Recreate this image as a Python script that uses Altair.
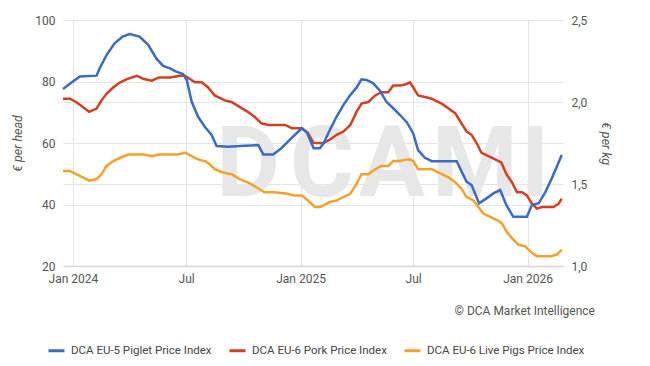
import altair as alt
import pandas as pd

FONT = "Roboto, sans-serif"

S_BLUE = "DCA EU-5 Piglet Price Index"
S_RED = "DCA EU-6 Pork Price Index"
S_ORANGE = "DCA EU-6 Live Pigs Price Index"

# Piglet price index, EUR per head (left axis)
blue_dates = ["2023-12-16", "2024-01-01", "2024-01-12", "2024-02-08", "2024-02-13", "2024-02-24",
              "2024-03-08", "2024-03-21", "2024-04-01", "2024-04-17", "2024-05-01", "2024-05-14",
              "2024-05-25", "2024-06-05", "2024-06-15", "2024-06-26", "2024-07-02", "2024-07-10",
              "2024-07-20", "2024-07-31", "2024-08-11", "2024-08-19", "2024-09-06", "2024-10-03",
              "2024-10-25", "2024-11-02", "2024-11-18", "2024-12-01", "2024-12-17", "2025-01-03",
              "2025-01-11", "2025-01-22", "2025-02-01", "2025-02-07", "2025-02-17", "2025-02-28",
              "2025-03-11", "2025-03-22", "2025-04-01", "2025-04-09", "2025-04-17", "2025-04-28",
              "2025-05-09", "2025-05-19", "2025-05-30", "2025-06-10", "2025-06-21", "2025-07-01",
              "2025-07-09", "2025-07-20", "2025-07-31", "2025-09-09", "2025-09-17", "2025-09-25",
              "2025-10-03", "2025-10-15", "2025-10-27", "2025-11-07", "2025-11-18", "2025-11-28",
              "2025-12-09", "2025-12-31", "2026-01-08", "2026-01-19", "2026-01-30", "2026-02-09",
              "2026-02-17", "2026-02-25"]
blue_vals = [77.6, 80.0, 81.6, 81.9, 84.3, 88.6,
             92.4, 94.6, 95.4, 94.6, 91.9, 87.5,
             85.1, 84.3, 83.2, 82.4, 80.5, 73.4,
             68.6, 65.3, 62.6, 59.0, 58.8, 59.1,
             59.3, 56.3, 56.3, 58.3, 61.5, 64.8,
             63.5, 58.3, 58.3, 59.9, 64.2, 68.6,
             72.4, 75.6, 78.0, 80.7, 80.5, 79.4,
             76.9, 73.4, 71.3, 69.1, 66.7, 63.2,
             57.7, 55.2, 54.1, 54.1, 50.7, 47.4,
             46.3, 40.4, 42.0, 43.6, 44.7, 39.8,
             36.0, 36.0, 39.8, 40.4, 44.2, 48.5,
             52.3, 56.1]

# Pork price index, EUR per kg (right axis)
red_dates = ["2023-12-16", "2023-12-27", "2024-01-06", "2024-01-17", "2024-01-27", "2024-02-08",
             "2024-02-16", "2024-02-24", "2024-03-06", "2024-03-17", "2024-03-28", "2024-04-13",
             "2024-04-24", "2024-05-07", "2024-05-18", "2024-06-05", "2024-06-21", "2024-06-29",
             "2024-07-15", "2024-07-26", "2024-08-05", "2024-08-16", "2024-09-01", "2024-09-12",
             "2024-09-25", "2024-10-08", "2024-10-19", "2024-10-30", "2024-11-10", "2024-12-07",
             "2024-12-18", "2025-01-03", "2025-01-13", "2025-01-22", "2025-02-07", "2025-02-17",
             "2025-02-28", "2025-03-11", "2025-03-22", "2025-04-01", "2025-04-09", "2025-04-20",
             "2025-05-01", "2025-05-11", "2025-05-22", "2025-05-30", "2025-06-10", "2025-06-21",
             "2025-06-26", "2025-07-01", "2025-07-09", "2025-07-20", "2025-07-31", "2025-08-05",
             "2025-08-16", "2025-08-27", "2025-09-07", "2025-09-15", "2025-09-25", "2025-10-03",
             "2025-10-11", "2025-10-19", "2025-10-30", "2025-11-10", "2025-11-20", "2025-11-28",
             "2025-12-07", "2025-12-15", "2025-12-23", "2025-12-31", "2026-01-08", "2026-01-16",
             "2026-01-24", "2026-02-12", "2026-02-20", "2026-02-25"]
red_vals = [2.02, 2.02, 2.00, 1.97, 1.94, 1.96,
            2.01, 2.05, 2.09, 2.12, 2.14, 2.16,
            2.14, 2.13, 2.15, 2.15, 2.16, 2.16,
            2.12, 2.12, 2.09, 2.04, 2.01, 2.00,
            1.97, 1.94, 1.91, 1.87, 1.86, 1.86,
            1.84, 1.84, 1.81, 1.75, 1.75, 1.77,
            1.80, 1.82, 1.86, 1.94, 1.99, 2.00,
            2.04, 2.06, 2.06, 2.10, 2.10, 2.11,
            2.12, 2.09, 2.04, 2.03, 2.02, 2.01,
            1.99, 1.96, 1.93, 1.88, 1.82, 1.80,
            1.75, 1.69, 1.67, 1.65, 1.63, 1.56,
            1.51, 1.45, 1.45, 1.43, 1.38, 1.35,
            1.36, 1.36, 1.38, 1.41]

# Live pigs price index, EUR per kg (right axis)
orange_dates = ["2023-12-16", "2023-12-27", "2024-01-06", "2024-01-17", "2024-01-27", "2024-02-08",
                "2024-02-16", "2024-02-24", "2024-03-06", "2024-03-17", "2024-03-30", "2024-04-24",
                "2024-05-07", "2024-05-18", "2024-06-17", "2024-06-30", "2024-07-10", "2024-07-20",
                "2024-07-31", "2024-08-08", "2024-08-16", "2024-08-29", "2024-09-12", "2024-09-25",
                "2024-10-08", "2024-10-22", "2024-11-04", "2024-11-20", "2024-12-11", "2024-12-22",
                "2025-01-03", "2025-01-13", "2025-01-24", "2025-02-01", "2025-02-07", "2025-02-17",
                "2025-02-28", "2025-03-11", "2025-03-22", "2025-04-01", "2025-04-09", "2025-04-20",
                "2025-05-01", "2025-05-11", "2025-05-22", "2025-05-30", "2025-06-10", "2025-06-21",
                "2025-06-26", "2025-07-01", "2025-07-09", "2025-07-31", "2025-08-11", "2025-08-16",
                "2025-08-27", "2025-09-07", "2025-09-17", "2025-09-25", "2025-10-06", "2025-10-14",
                "2025-10-22", "2025-11-02", "2025-11-13", "2025-11-21", "2025-11-28", "2025-12-07",
                "2025-12-17", "2025-12-28", "2026-01-08", "2026-01-16", "2026-01-24", "2026-02-08",
                "2026-02-17", "2026-02-25"]
orange_vals = [1.58, 1.58, 1.56, 1.54, 1.52, 1.53,
               1.56, 1.61, 1.64, 1.66, 1.68, 1.68,
               1.67, 1.68, 1.68, 1.69, 1.67, 1.65,
               1.64, 1.62, 1.59, 1.57, 1.56, 1.53,
               1.51, 1.48, 1.45, 1.45, 1.44, 1.43,
               1.43, 1.40, 1.36, 1.36, 1.37, 1.39,
               1.40, 1.42, 1.44, 1.50, 1.56, 1.56,
               1.59, 1.61, 1.61, 1.64, 1.64, 1.65,
               1.65, 1.64, 1.59, 1.59, 1.57, 1.56,
               1.54, 1.51, 1.47, 1.42, 1.40, 1.36,
               1.32, 1.30, 1.28, 1.26, 1.21, 1.17,
               1.13, 1.12, 1.08, 1.06, 1.06, 1.06,
               1.07, 1.10]

left_ticks = [20, 40, 60, 80, 100]
right_ticks = [1.0, 1.5, 2.0, 2.5]
watermark_letters = ["D", "C", "A", "M", "I"]
watermark_px = [185, 259, 329, 412, 472]

df_left = pd.DataFrame({"date": blue_dates, "value": blue_vals, "series": S_BLUE})
df_right = pd.concat([
    pd.DataFrame({"date": red_dates, "value": red_vals, "series": S_RED}),
    pd.DataFrame({"date": orange_dates, "value": orange_vals, "series": S_ORANGE}),
])

color_scale = alt.Scale(domain=[S_BLUE, S_RED, S_ORANGE],
                        range=["#3a6cc2", "#d2401f", "#f6a02a"])

def dt(y, m, d):
    return alt.DateTime(year=y, month=m, date=d, utc=True)

x_enc = alt.X(
    "date:T",
    scale=alt.Scale(type="utc", domain=[dt(2023, 12, 16), dt(2026, 2, 27)]),
    axis=alt.Axis(
        values=[dt(2024, 1, 1), dt(2024, 7, 1), dt(2025, 1, 1), dt(2025, 7, 1), dt(2026, 1, 1)],
        labelExpr="utcmonth(datum.value) == 0 ? 'Jan ' + utcyear(datum.value) : 'Jul'",
        grid=True, domain=True, domainColor="#d6d6d6", domainWidth=1.5, ticks=False,
        labelPadding=7, labelFontSize=12, labelColor="#555555", labelFont=FONT,
    ),
    title=None,
)

legend = alt.Legend(
    orient="none", legendX=-16, legendY=321, direction="horizontal", title=None,
    symbolType="stroke", symbolStrokeWidth=3, symbolSize=256, labelFontSize=11.5,
    labelFont=FONT, labelColor="#444444", columnPadding=11, labelOffset=5, labelLimit=0,
)

color_enc = alt.Color("series:N", scale=color_scale, legend=legend, sort=[S_BLUE, S_RED, S_ORANGE])

wm = alt.Chart(pd.DataFrame({"t": watermark_letters, "px": watermark_px})).mark_text(
    fontSize=98, fontWeight="bold", font="Roboto", color="#e7e7e7", align="center", baseline="alphabetic"
).encode(x=alt.X("px:Q", scale=None), y=alt.value(176), text="t:N")

right = alt.Chart(df_right).mark_line(strokeWidth=2.5).encode(
    x=x_enc,
    y=alt.Y("value:Q", scale=alt.Scale(domain=[1.0, 2.5], nice=False, zero=False),
            axis=alt.Axis(orient="right", values=right_ticks,
                          labelExpr="replace(format(datum.value, '.1f'), '.', ',')",
                          title="€ per kg", titleFontStyle="italic", titleFontWeight="normal",
                          titleFontSize=12.5, titleColor="#555555", titleFont=FONT, titlePadding=12,
                          grid=True, domain=False, ticks=False, labelPadding=8,
                          labelFontSize=12, labelColor="#555555", labelFont=FONT)),
    color=color_enc,
)

left = alt.Chart(df_left).mark_line(strokeWidth=2.5).encode(
    x=x_enc,
    y=alt.Y("value:Q", scale=alt.Scale(domain=[20, 100], nice=False, zero=False),
            axis=alt.Axis(orient="left", values=left_ticks,
                          title="€ per head", titleFontStyle="italic", titleFontWeight="normal",
                          titleFontSize=12.5, titleColor="#555555", titleFont=FONT, titlePadding=10,
                          grid=True, domain=False, ticks=False, labelPadding=8,
                          labelFontSize=12, labelColor="#555555", labelFont=FONT)),
    color=color_enc,
)

credit = alt.Chart(pd.DataFrame({"t": ["© DCA Market Intelligence"]})).mark_text(
    align="right", baseline="middle", fontSize=12, font=FONT, color="#555555"
).encode(x=alt.value(532), y=alt.value(291), text="t:N")

chart = alt.layer(wm, right, left, credit).resolve_scale(y="independent").properties(
    width=500, height=246,
    autosize=alt.AutoSizeParams(type="none"),
    padding={"left": 55, "top": 12, "right": 79, "bottom": 100},
).configure_view(stroke=None).configure_axis(gridColor="#e4e4e4", gridWidth=1)

chart.save("out.html", embed_options={"renderer": "svg", "actions": False})
